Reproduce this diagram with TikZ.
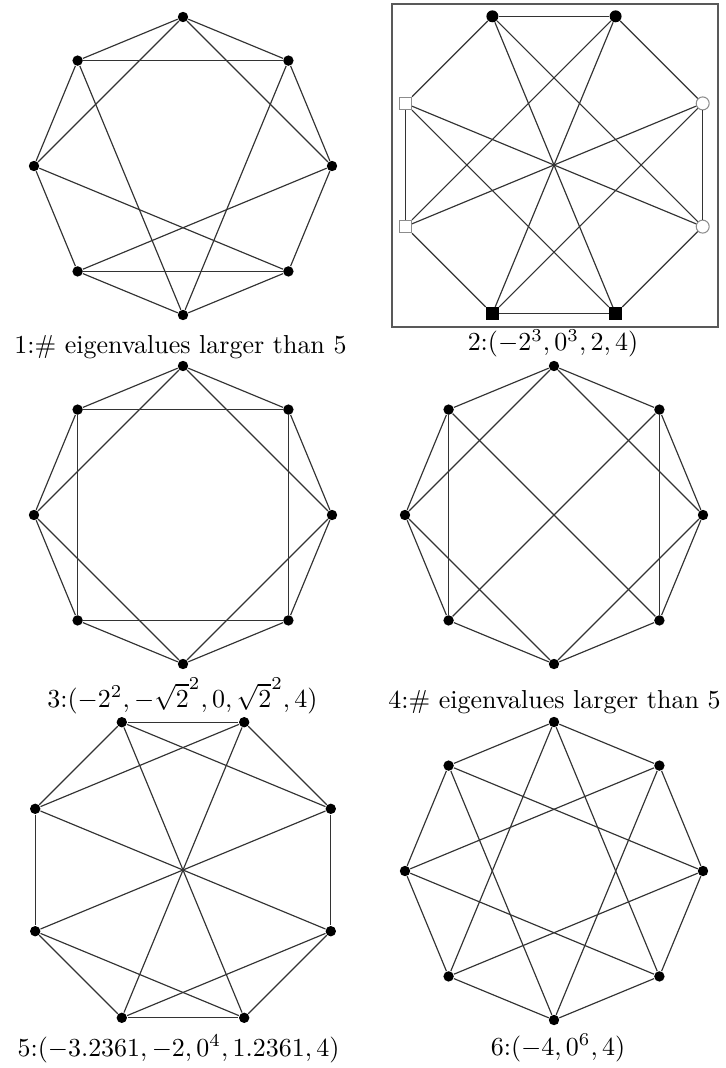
\documentclass[tikz,border=0pt]{standalone}
\begin{document}
\begin{tikzpicture}[x=0.385pt,y=-0.385pt,
  edge/.style={draw=black!80,line width=0.45pt},
  vdot/.style={circle,fill=black,inner sep=0pt,minimum size=4pt},
  bdot/.style={circle,fill=black,inner sep=0pt,minimum size=4.6pt},
  wsq/.style={rectangle,draw=black!45,fill=white,line width=0.4pt,inner sep=0pt,minimum size=4.8pt},
  wcirc/.style={circle,draw=black!45,fill=white,line width=0.4pt,inner sep=0pt,minimum size=5pt},
  bsq/.style={rectangle,fill=black,inner sep=0pt,minimum size=4.8pt},
  frame/.style={draw=black!65,line width=0.8pt},
  captext/.style={anchor=base,inner sep=0pt}]
\useasboundingbox (0,0) rectangle (725,1068);

% ---------- Graph 1 ----------
\foreach \n/\x/\y in {T/183/17,UR/288.4/60.6,R/332/166,LR/288.4/271.4,B/183/315,LL/77.6/271.4,L/34/166,UL/77.6/60.6}
  \node[vdot] (a-\n) at (\x,\y) {};
\foreach \p/\q in {T/UR,UR/R,R/LR,LR/B,B/LL,LL/L,L/UL,UL/T,T/L,T/R,UL/UR,UL/B,UR/B,L/LR,R/LL,LL/LR}
  \draw[edge] (a-\p) -- (a-\q);
\node[captext] (cap1) at (180.5,353) {1:\# eigenvalues larger than 5};

% ---------- Graph 2 ----------
\draw[frame] (392,4) rectangle (718,327);
\node[bdot] (b-TL) at (492.4,16.3) {};
\node[bdot] (b-TR) at (615.6,16.3) {};
\node[wcirc] (b-Ru) at (702.7,103.4) {};
\node[wcirc] (b-Rl) at (702.7,226.6) {};
\node[bsq] (b-BR) at (615.6,313.7) {};
\node[bsq] (b-BL) at (492.4,313.7) {};
\node[wsq] (b-Ll) at (405.3,226.6) {};
\node[wsq] (b-Lu) at (405.3,103.4) {};
\foreach \p/\q in {TL/TR,TL/Lu,TR/Ru,Lu/Ll,Ru/Rl,Ll/BL,Rl/BR,BL/BR,TL/BR,TR/BL,Lu/Rl,Ll/Ru,TL/Rl,TR/Ll,Lu/BR,Ru/BL}
  \draw[edge] (b-\p) -- (b-\q);
\node[captext] (cap2) at (553,350.5) {2:$(-2^3,0^3,2,4)$};

% ---------- Graph 3 ----------
\foreach \n/\x/\y in {T/183/366,UR/288.4/409.6,R/332/515,LR/288.4/620.4,B/183/664,LL/77.6/620.4,L/34/515,UL/77.6/409.6}
  \node[vdot] (c-\n) at (\x,\y) {};
\foreach \p/\q in {T/UR,UR/R,R/LR,LR/B,B/LL,LL/L,L/UL,UL/T,UL/UR,UR/LR,LR/LL,LL/UL,T/L,T/R,B/L,B/R}
  \draw[edge] (c-\p) -- (c-\q);
\node[captext] (cap3) at (182.5,707) {3:$(-2^2,-\sqrt{2}^2,0,\sqrt{2}^2,4)$};

% ---------- Graph 4 ----------
\foreach \n/\x/\y in {T/554/366,UR/659.4/409.6,R/703/515,LR/659.4/620.4,B/554/664,LL/448.6/620.4,L/405/515,UL/448.6/409.6}
  \node[vdot] (d-\n) at (\x,\y) {};
\foreach \p/\q in {T/UR,UR/R,R/LR,LR/B,B/LL,LL/L,L/UL,UL/T,UL/LL,UR/LR,T/L,T/R,UL/LR,UR/LL,L/B,R/B}
  \draw[edge] (d-\p) -- (d-\q);
\node[captext] (cap4) at (554.5,708) {4:\# eigenvalues larger than 5};

% ---------- Graph 5 ----------
\foreach \n/\x/\y in {TL/121.8/722.2,TR/244.2/722.2,Ru/330.8/808.8,Rl/330.8/931.2,BR/244.2/1017.8,BL/121.8/1017.8,Ll/35.2/931.2,Lu/35.2/808.8}
  \node[vdot] (e-\n) at (\x,\y) {};
\foreach \p/\q in {TL/TR,TL/Lu,TR/Ru,Lu/Ll,Ru/Rl,Ll/BL,Rl/BR,BL/BR,TL/BR,TR/BL,Lu/Rl,Ru/Ll,TL/Ru,TR/Lu,Ll/BR,Rl/BL}
  \draw[edge] (e-\p) -- (e-\q);
\node[captext] (cap5) at (178.5,1056) {5:$(-3.2361,-2,0^4,1.2361,4)$};

% ---------- Graph 6 ----------
\foreach \n/\x/\y in {T/554/722,UR/659.4/765.6,R/703/871,LR/659.4/976.4,B/554/1020,LL/448.6/976.4,L/405/871,UL/448.6/765.6}
  \node[vdot] (f-\n) at (\x,\y) {};
\foreach \p/\q in {T/UR,UR/R,R/LR,LR/B,B/LL,LL/L,L/UL,UL/T,T/LL,T/LR,UL/R,UL/B,UR/L,UR/B,L/LR,R/LL}
  \draw[edge] (f-\p) -- (f-\q);
\node[captext] (cap6) at (558,1055) {6:$(-4,0^6,4)$};
\end{tikzpicture}
\end{document}
